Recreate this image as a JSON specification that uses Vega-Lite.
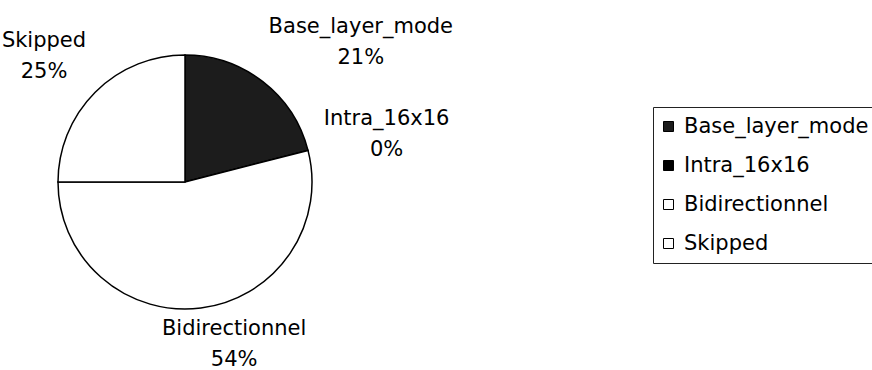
{
  "$schema": "https://vega.github.io/schema/vega-lite/v6.json",
  "autosize": "none",
  "width": 370,
  "height": 364,
  "padding": {"left": 0, "top": 0, "right": 502, "bottom": 6},
  "background": "white",
  "config": {
    "view": {"stroke": null},
    "font": "DejaVu Sans"
  },
  "data": {
    "values": [
      {"idx": 1, "mode": "Base_layer_mode", "share": 21},
      {"idx": 2, "mode": "Intra_16x16", "share": 0},
      {"idx": 3, "mode": "Bidirectionnel", "share": 54},
      {"idx": 4, "mode": "Skipped", "share": 25}
    ]
  },
  "transform": [
    {"calculate": "[datum.mode, datum.share + '%']", "as": "caption"}
  ],
  "encoding": {
    "theta": {"field": "share", "type": "quantitative", "stack": true},
    "order": {"field": "idx", "type": "quantitative", "sort": "ascending"}
  },
  "layer": [
    {
      "mark": {"type": "arc", "outerRadius": 127, "stroke": "black", "strokeWidth": 1.5},
      "encoding": {
        "color": {
          "field": "mode",
          "type": "nominal",
          "scale": {
            "domain": ["Base_layer_mode", "Intra_16x16", "Bidirectionnel", "Skipped"],
            "range": ["#1c1c1c", "#000000", "#ffffff", "#ffffff"]
          },
          "legend": {
            "title": null,
            "orient": "none",
            "legendX": 653,
            "legendY": 107,
            "padding": 9,
            "strokeColor": "#222",
            "symbolType": "square",
            "symbolSize": 100,
            "symbolOffset": -4,
            "symbolStrokeColor": "black",
            "symbolStrokeWidth": 1,
            "labelFont": "DejaVu Sans",
            "labelFontSize": 21,
            "labelColor": "black",
            "labelOffset": 5,
            "labelLimit": 400,
            "rowPadding": 17
          }
        }
      }
    },
    {
      "mark": {
        "type": "text",
        "radius": 140,
        "font": "DejaVu Sans",
        "fontSize": 21,
        "lineHeight": 31,
        "color": "black",
        "align": "center",
        "baseline": "top",
        "dx": {"expr": "clamp(3 * sin(PI * (datum.share_start + datum.share_end) / 100), -1, 1) * length(datum.mode) * 6"},
        "dy": {"expr": "-(1 + cos(PI * (datum.share_start + datum.share_end) / 100)) * 29 - 3"}
      },
      "encoding": {
        "text": {"field": "caption"}
      }
    }
  ]
}
